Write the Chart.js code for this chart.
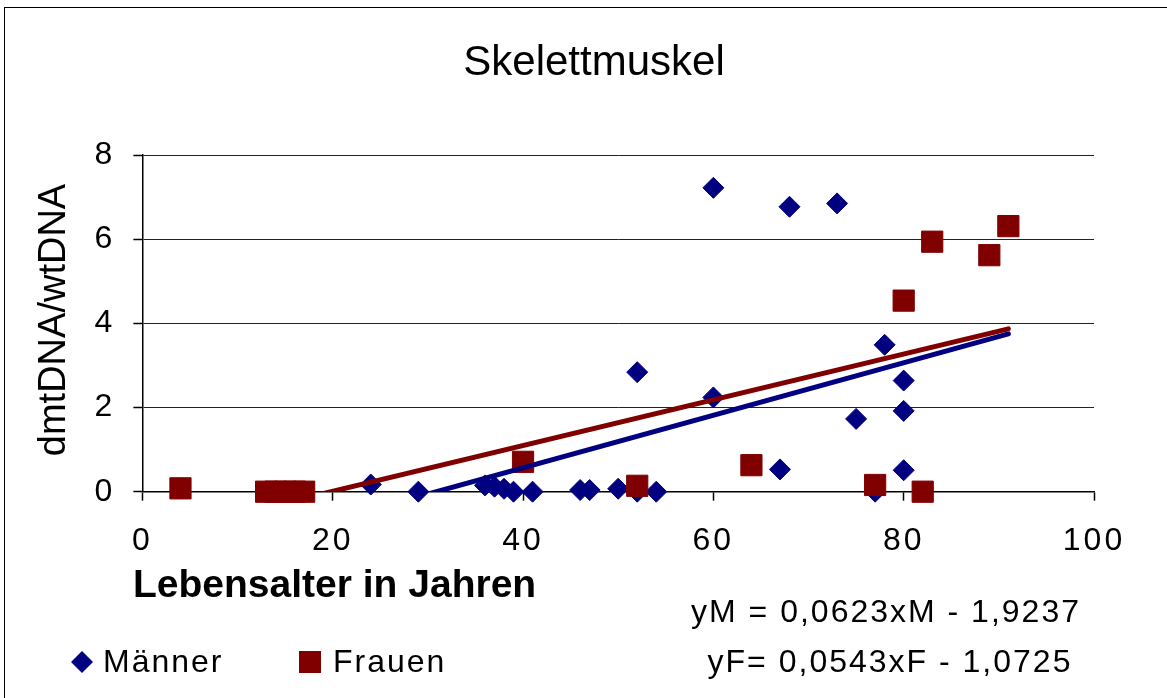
<!DOCTYPE html>
<html>
<head>
<meta charset="utf-8">
<title>Skelettmuskel</title>
<script src="https://cdn.jsdelivr.net/npm/chart.js@4"></script>
<style>
  body { margin: 0; background: #fff; overflow: hidden; }
  #rahmen { position: absolute; left: 4px; top: 7px; width: 1180px; height: 710px; border: 1.5px solid #000; }
  #grafico { position: absolute; left: 0; top: 0; }
</style>
</head>
<body>
<div id="rahmen"></div>
<canvas id="grafico" width="1167" height="698"></canvas>
<script>
// Werte
const alterMaenner = [24, 29, 36, 37, 38, 39, 41, 46, 47, 50, 52, 52, 54, 60, 60, 67, 68, 73, 75, 77, 78, 80, 80, 80]
const wertMaenner = [0.17, 0, 0.15, 0.12, 0.07, 0, 0, 0.04, 0.04, 0.07, 2.84, 0, 0, 7.22, 2.24, 0.53, 6.77, 6.85, 1.73, 0, 3.49, 2.64, 1.92, 0.51]

const alterFrauen = [4, 13, 14, 15, 16, 17, 40, 52, 64, 77, 80, 82, 83, 89, 91]
const wertFrauen = [0.08, 0, 0, 0, 0, 0, 0.71, 0.14, 0.63, 0.16, 4.54, 0, 5.94, 5.62, 6.31]

// Trendlinien (Endpunkte)
const trendMx = [24, 91]
const trendMy = [-0.43, 3.75]
const trendFx = [4, 91]
const trendFy = [-0.86, 3.87]

const xTicks = [0, 20, 40, 60, 80, 100]
const yTicks = [0, 2, 4, 6, 8]

const titel = 'Skelettmuskel'
const titelX = 'Lebensalter in Jahren'
const titelY = 'dmtDNA/wtDNA'
const gleichungM = 'yM = 0,0623xM - 1,9237'
const gleichungF = 'yF= 0,0543xF - 1,0725'
const namen = ['Männer', 'Frauen']

const blau = '#000080'
const rot = '#800000'
const schrift = '"Liberation Sans", Arial, sans-serif'

function punkte(xs, ys) {
    return xs.map((x, i) => ({ x: x, y: ys[i] }))
}

const textePlugin = {
    id: 'texte',
    beforeDraw(chart) {
        chart.ctx.letterSpacing = '3px'
    },
    afterDraw(chart) {
        const ctx = chart.ctx
        ctx.save()
        ctx.fillStyle = '#000'
        ctx.textBaseline = 'alphabetic'

        ctx.letterSpacing = '0px'
        ctx.font = '42px ' + schrift
        ctx.textAlign = 'center'
        ctx.fillText(titel, 594, 75)

        ctx.font = 'bold 39px ' + schrift
        ctx.textAlign = 'left'
        ctx.fillText(titelX, 133, 597)

        ctx.save()
        ctx.translate(65, 320)
        ctx.rotate(-Math.PI / 2)
        ctx.font = '38px ' + schrift
        ctx.textAlign = 'center'
        ctx.fillText(titelY, 0, 0)
        ctx.restore()

        ctx.letterSpacing = '2px'
        ctx.font = '32px ' + schrift
        ctx.textAlign = 'center'
        ctx.fillText(gleichungM, 886, 622)
        ctx.fillText(gleichungF, 890, 672)

        // Legende
        ctx.fillStyle = blau
        ctx.beginPath()
        ctx.moveTo(71, 662)
        ctx.lineTo(82, 651)
        ctx.lineTo(93, 662)
        ctx.lineTo(82, 673)
        ctx.closePath()
        ctx.fill()
        ctx.fillStyle = rot
        ctx.fillRect(299, 651, 22, 22)

        ctx.fillStyle = '#000'
        ctx.textAlign = 'left'
        ctx.fillText(namen[0], 103, 672)
        ctx.fillText(namen[1], 333, 672)
        ctx.restore()
        ctx.letterSpacing = '0px'
    }
}

const grafico = new Chart(document.getElementById('grafico'), {
    type: 'scatter',
    data: {
        datasets: [{
            label: 'Trend Frauen',
            data: punkte(trendFx, trendFy),
            showLine: true,
            fill: false,
            borderColor: rot,
            borderWidth: 5,
            borderCapStyle: 'round',
            pointRadius: 0,
            clip: 0
        }, {
            label: 'Trend Männer',
            data: punkte(trendMx, trendMy),
            showLine: true,
            fill: false,
            borderColor: blau,
            borderWidth: 5,
            borderCapStyle: 'round',
            pointRadius: 0,
            clip: 0
        }, {
            label: namen[1],
            data: punkte(alterFrauen, wertFrauen),
            pointStyle: 'rect',
            pointRadius: 15,
            backgroundColor: rot,
            borderColor: rot,
            borderWidth: 1,
            clip: false
        }, {
            label: namen[0],
            data: punkte(alterMaenner, wertMaenner),
            pointStyle: 'rectRot',
            pointRadius: 10.5,
            backgroundColor: blau,
            borderColor: blau,
            borderWidth: 1,
            clip: false
        }]
    },
    options: {
        responsive: false,
        animation: false,
        layout: { padding: { left: 0, top: 155, right: 73, bottom: 0 } },
        plugins: {
            legend: { display: false },
            tooltip: { enabled: false }
        },
        scales: {
            x: {
                type: 'linear',
                min: 0,
                max: 100,
                afterBuildTicks: (s) => { s.ticks = xTicks.map(v => ({ value: v })) },
                afterFit: (s) => { s.height = 206.3 },
                grid: { drawOnChartArea: false, tickLength: 9, tickColor: '#000', tickWidth: 1.5 },
                border: { color: '#000', width: 1.5 },
                ticks: { padding: 21, color: '#000', font: { family: schrift, size: 32 } }
            },
            y: {
                type: 'linear',
                min: 0,
                max: 8,
                afterBuildTicks: (s) => { s.ticks = yTicks.map(v => ({ value: v })) },
                afterFit: (s) => { s.width = 142.4 },
                grid: { color: '#222', lineWidth: 1, tickLength: 9, tickColor: '#000', tickWidth: 1.5 },
                border: { color: '#000', width: 1.5 },
                ticks: { padding: 18, color: '#000', font: { family: schrift, size: 32 } }
            }
        }
    },
    plugins: [textePlugin]
})
</script>
</body>
</html>
